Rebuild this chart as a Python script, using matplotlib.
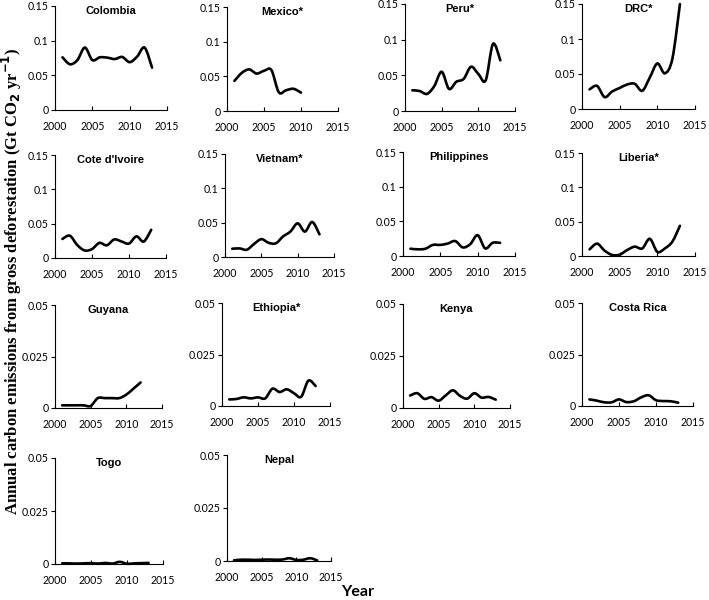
import matplotlib
matplotlib.use('Agg')
import matplotlib.pyplot as plt
from matplotlib.path import Path
from matplotlib.patches import PathPatch
import numpy as np

years = list(range(2001, 2014))

countries = ['Colombia', 'Mexico*', 'Peru*', 'DRC*',
             "Cote d'Ivoire", 'Vietnam*', 'Philippines', 'Liberia*',
             'Guyana', 'Ethiopia*', 'Kenya', 'Costa Rica',
             'Togo', 'Nepal']

colombia = [0.076, 0.066, 0.072, 0.090, 0.072, 0.076, 0.0755, 0.0735, 0.0765, 0.069, 0.077, 0.090, 0.061]
mexico = [0.0434, 0.055, 0.060, 0.054, 0.058, 0.059, 0.027, 0.030, 0.032, 0.0265]
peru = [0.029, 0.028, 0.024, 0.035, 0.055, 0.031, 0.041, 0.045, 0.062, 0.052, 0.043, 0.094, 0.071]
drc = [0.028, 0.033, 0.017, 0.025, 0.030, 0.035, 0.036, 0.026, 0.045, 0.065, 0.051, 0.072, 0.150]
cote = [0.0277, 0.0325, 0.019, 0.011, 0.013, 0.022, 0.0185, 0.027, 0.024, 0.021, 0.0315, 0.024, 0.041]
vietnam = [0.012, 0.0125, 0.0106, 0.019, 0.026, 0.0207, 0.020, 0.030, 0.037, 0.049, 0.037, 0.051, 0.033]
philippines = [0.0105, 0.0096, 0.0105, 0.016, 0.016, 0.018, 0.0215, 0.0124, 0.017, 0.030, 0.011, 0.019, 0.019]
liberia = [0.0096, 0.018, 0.0078, 0.0015, 0.002, 0.0087, 0.0136, 0.011, 0.025, 0.006, 0.011, 0.021, 0.044]
guyana = [0.0013, 0.0013, 0.0013, 0.0013, 0.001, 0.0048, 0.0048, 0.0048, 0.0048, 0.0065, 0.0094, 0.0124]
ethiopia = [0.0032, 0.0034, 0.0042, 0.0037, 0.0042, 0.0037, 0.0084, 0.0068, 0.0081, 0.0062, 0.0045, 0.0123, 0.0097]
kenya = [0.006, 0.0071, 0.0044, 0.0052, 0.0035, 0.0061, 0.0085, 0.0058, 0.0045, 0.0071, 0.005, 0.0053, 0.004]
costa_rica = [0.0032, 0.0026, 0.0018, 0.0018, 0.0032, 0.0019, 0.0023, 0.0042, 0.0052, 0.0028, 0.0024, 0.0023, 0.0016]
togo = [0.0003, 0.0003, 0.0002, 0.0003, 0.0004, 0.0002, 0.0005, 0.0002, 0.0010, 0.0001, 0.0003, 0.0004, 0.0005]
nepal = [0.0003, 0.0006, 0.0006, 0.0005, 0.0006, 0.0007, 0.0006, 0.0007, 0.0013, 0.0005, 0.0006, 0.0013, 0.0003]

series = [colombia, mexico, peru, drc, cote, vietnam, philippines, liberia,
          guyana, ethiopia, kenya, costa_rica, togo, nepal]

# axes boxes in pixels: left, right, top, bottom
boxes = [(55, 167, 6, 110), (227, 338, 7, 111), (405, 515, 4, 111), (582, 695, 4, 109),
         (55, 166, 155, 258), (225, 334, 154, 257), (403, 515, 152, 256), (582, 695, 153, 256),
         (55, 162, 305, 408), (222, 330, 303, 406), (403, 510, 304, 408), (582, 693, 303, 406),
         (55, 163, 458, 564), (227, 331, 455, 561)]

W, H = 709, 600
tick_font = 'Lato'


def smooth_path(xs, ys):
    # excel style smoothed line (cubic bezier through the points)
    pts = np.column_stack([xs, ys]).astype(float)
    verts = [pts[0]]
    codes = [Path.MOVETO]
    n = len(pts)
    for i in range(n - 1):
        p0 = pts[i - 1] if i > 0 else pts[i]
        p1 = pts[i]
        p2 = pts[i + 1]
        p3 = pts[i + 2] if i + 2 < n else pts[i + 1]
        c1 = p1 + (p2 - p0) / 6.0
        c2 = p2 - (p3 - p1) / 6.0
        verts += [c1, c2, p2]
        codes += [Path.CURVE4] * 3
    return Path(verts, codes)


fig = plt.figure(figsize=(W / 100, H / 100), dpi=100)

for i, (name, vals) in enumerate(zip(countries, series)):
    l, r, t, b = boxes[i]
    ax = fig.add_axes([l / W, 1 - b / H, (r - l) / W, (b - t) / H])
    xs = years[:len(vals)]
    ax.add_patch(PathPatch(smooth_path(xs, vals), fill=False, lw=1.9,
                           edgecolor='black', clip_on=False, capstyle='round'))
    ax.set_xlim(2000, 2015)
    ax.set_xticks([2000, 2005, 2010, 2015])
    if i < 8:
        ax.set_ylim(0, 0.15)
        ax.set_yticks([0, 0.05, 0.1, 0.15])
        ax.set_yticklabels(['0', '0.05', '0.1', '0.15'])
    else:
        ax.set_ylim(0, 0.05)
        ax.set_yticks([0, 0.025, 0.05])
        ax.set_yticklabels(['0', '0.025', '0.05'])
    for s in ['top', 'right']:
        ax.spines[s].set_visible(False)
    for s in ['left', 'bottom']:
        ax.spines[s].set_linewidth(0.8)
    ax.tick_params(axis='x', direction='in', length=3, width=0.8, pad=8, labelsize=7.6)
    ax.tick_params(axis='y', direction='out', length=3, width=0.8, pad=1.5, labelsize=7.6)
    for lab in ax.get_xticklabels() + ax.get_yticklabels():
        lab.set_family(tick_font)
    ax.text(0.5, 1.0, name, transform=ax.transAxes, ha='center', va='top',
            fontsize=8, fontweight='bold', family='Liberation Sans')

fig.text(11.5 / W, 1 - 281 / H,
         'Annual carbon emissions from gross deforestation (Gt CO$_\\mathbf{2}$ yr$^\\mathbf{-1}$)',
         rotation=90, ha='center', va='center', fontsize=12, fontweight='bold',
         family='Liberation Serif')
fig.text(358 / W, 1 - 592 / H, 'Year', ha='center', va='center',
         fontsize=11.5, fontweight='bold', family='Lato')

fig.savefig('out.png', dpi=100)
